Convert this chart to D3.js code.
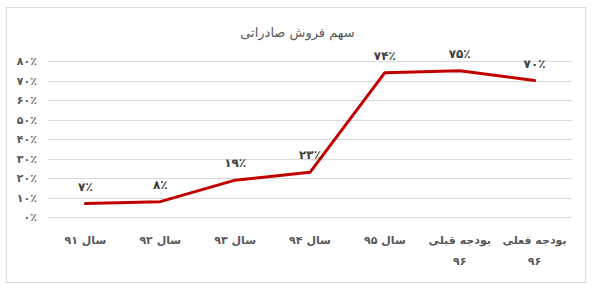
<!DOCTYPE html>
<html>
<head>
<meta charset="utf-8">
<script src="https://cdn.jsdelivr.net/npm/d3@7"></script>
<style>
  body { margin: 0; background: #fff; }
  svg { font-family: "DejaVu Sans", sans-serif; }
</style>
</head>
<body>
<div id="chart"></div>
<script>
// data
const categories = ["سال ۹۱", "سال ۹۲", "سال ۹۳", "سال ۹۴", "سال ۹۵", "بودجه قبلی ۹۶", "بودجه فعلی ۹۶"]
const values = [7, 8, 19, 23, 74, 75, 70]
const yTicks = [0, 10, 20, 30, 40, 50, 60, 70, 80]
const chartTitle = "سهم فروش صادراتی"

const width = 593, height = 288
const margin = { top: 61, right: 21, bottom: 71, left: 48 }

// persian digits
const fa = s => String(s).replace(/\d/g, d => "۰۱۲۳۴۵۶۷۸۹"[d])
const pct = v => fa(v) + "٪"

const svg = d3.select("#chart").append("svg")
    .attr("width", width)
    .attr("height", height)

svg.append("rect")
    .attr("x", 6.5).attr("y", 7.5)
    .attr("width", 579).attr("height", 275)
    .attr("fill", "#fff")
    .attr("stroke", "#d9d9d9")

svg.append("text")
    .attr("x", width / 2 + 1)
    .attr("y", 37)
    .attr("text-anchor", "middle")
    .attr("fill", "#595959")
    .style("font-size", "13px")
    .attr("direction", "rtl")
    .text(chartTitle)

const x = d3.scaleBand()
    .domain(categories)
    .range([margin.left, width - margin.right])

const y = d3.scaleLinear()
    .domain([0, 80])
    .range([height - margin.bottom + 0.3, margin.top])

// gridlines
svg.append("g")
    .selectAll("line")
    .data(yTicks)
  .enter().append("line")
    .attr("x1", margin.left)
    .attr("x2", width - margin.right)
    .attr("y1", d => Math.round(y(d)) + 0.5)
    .attr("y2", d => Math.round(y(d)) + 0.5)
    .attr("stroke", "#d9d9d9")

// y labels
svg.append("g")
    .selectAll("text")
    .data(yTicks)
  .enter().append("text")
    .attr("x", 37)
    .attr("y", d => y(d) + 4)
    .attr("text-anchor", "end")
    .attr("fill", "#595959")
    .style("font-size", "11px")
    .style("font-weight", "bold")
    .text(d => pct(d))

// x labels, wrapped before the year
const xl = svg.append("g")
    .selectAll("text")
    .data(categories)
  .enter().append("text")
    .attr("text-anchor", "middle")
    .attr("fill", "#595959")
    .style("font-size", "11px")
    .style("font-weight", "bold")
    .attr("direction", "rtl")

xl.each(function(d) {
  const cx = x(d) + x.bandwidth() / 2
  const parts = d.split(" ")
  const t = d3.select(this)
  if (parts.length > 2) {
    t.append("tspan").attr("x", cx).attr("y", 244).text(parts.slice(0, 2).join(" "))
    t.append("tspan").attr("x", cx).attr("y", 265).text(parts.slice(2).join(" "))
  } else {
    t.append("tspan").attr("x", cx).attr("y", 244).text(d)
  }
})

const line = d3.line()
    .x((d, i) => x(categories[i]) + x.bandwidth() / 2)
    .y(d => y(d))

svg.append("path")
    .datum(values)
    .attr("d", line)
    .attr("fill", "none")
    .attr("stroke", "#c00000")
    .attr("stroke-width", 3)
    .attr("stroke-linejoin", "round")
    .attr("stroke-linecap", "round")

svg.append("g")
    .selectAll("text")
    .data(values)
  .enter().append("text")
    .attr("x", (d, i) => x(categories[i]) + x.bandwidth() / 2)
    .attr("y", d => y(d) - 13)
    .attr("text-anchor", "middle")
    .attr("fill", "#404040")
    .style("font-size", "12px")
    .style("font-weight", "bold")
    .text(d => pct(d))
</script>
</body>
</html>
